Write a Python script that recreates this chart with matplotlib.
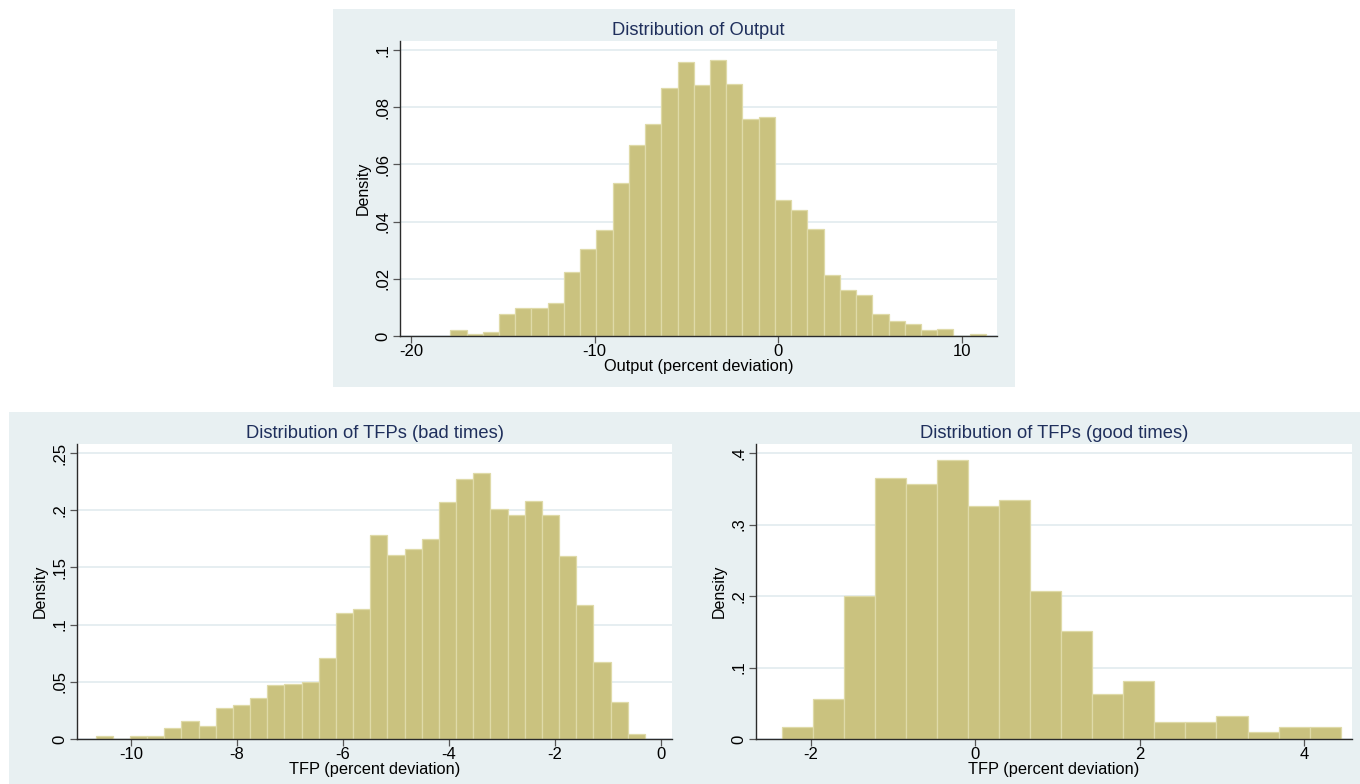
import numpy as np
import matplotlib.pyplot as plt
from matplotlib.patches import Rectangle

plt.rcParams['font.family'] = ['Liberation Sans', 'DejaVu Sans']
plt.rcParams['axes.unicode_minus'] = False

# ---- data ----
output_range = (-17.86, 11.30)
output_density = [0.0020, 0.0007, 0.0013, 0.0077, 0.0099, 0.0099, 0.0114, 0.0222,
                  0.0303, 0.0370, 0.0533, 0.0667, 0.0740, 0.0865, 0.0957, 0.0878,
                  0.0963, 0.0882, 0.0760, 0.0765, 0.0475, 0.0440, 0.0375, 0.0212,
                  0.0160, 0.0143, 0.0076, 0.0051, 0.0042, 0.0020, 0.0024, 0.0, 0.0007]

bad_range = (-10.67, -0.30)
bad_density = [0.0026, 0.0, 0.0026, 0.0026, 0.0096, 0.0158, 0.0117, 0.0268,
               0.0300, 0.0360, 0.0470, 0.0480, 0.0500, 0.0710, 0.1100, 0.1140,
               0.1780, 0.1610, 0.1660, 0.1750, 0.2070, 0.2270, 0.2325, 0.2010,
               0.1955, 0.2080, 0.1955, 0.1600, 0.1170, 0.0670, 0.0320, 0.0044]

good_range = (-2.356, 4.447)
good_density = [0.0163, 0.0563, 0.1998, 0.3655, 0.3570, 0.3900, 0.3255, 0.3340,
                0.2067, 0.1510, 0.0633, 0.0806, 0.0242, 0.0242, 0.0321, 0.0093,
                0.0163, 0.0163]

output_xticks = [-20, -10, 0, 10]
output_yticks = [0, 0.02, 0.04, 0.06, 0.08, 0.1]
output_ylabels = ['0', '.02', '.04', '.06', '.08', '.1']
bad_xticks = [-10, -8, -6, -4, -2, 0]
bad_yticks = [0, 0.05, 0.1, 0.15, 0.2, 0.25]
bad_ylabels = ['0', '.05', '.1', '.15', '.2', '.25']
good_xticks = [-2, 0, 2, 4]
good_yticks = [0, 0.1, 0.2, 0.3, 0.4]
good_ylabels = ['0', '.1', '.2', '.3', '.4']

BG = '#e8f0f2'
BAR = '#cac27f'
EDGE = '#dfdaa8'
TITLE = '#1f2f5c'

W, H = 1360, 784
fig = plt.figure(figsize=(W / 100, H / 100), dpi=100)
fig.patch.set_facecolor('white')


def px_rect(x0, y0, x1, y1):
    return [x0 / W, 1 - y1 / H, (x1 - x0) / W, (y1 - y0) / H]


# region backgrounds
for x0, y0, x1, y1 in [(333, 9, 1015, 387), (9, 412, 1360, 784)]:
    r = px_rect(x0, y0, x1, y1)
    fig.patches.append(Rectangle((r[0], r[1]), r[2], r[3], transform=fig.transFigure,
                                 facecolor=BG, edgecolor='none', zorder=-5))


def hist_panel(rect, rng, dens, xlim, ylim, xticks, yticks, ylabels, title, xlabel):
    ax = fig.add_axes(px_rect(*rect))
    ax.set_zorder(2)
    ax.set_facecolor('white')
    edges = np.linspace(rng[0], rng[1], len(dens) + 1)
    ax.bar(edges[:-1], dens, width=np.diff(edges), align='edge',
           color=BAR, edgecolor=EDGE, linewidth=0.9, zorder=2)
    ax.set_xlim(*xlim)
    ax.set_ylim(*ylim)
    ax.set_xticks(xticks)
    ax.set_yticks(yticks)
    ax.set_yticklabels(ylabels, rotation=90, va='center')
    ax.yaxis.grid(True, color='#e4edf0', linewidth=1.3, zorder=1)
    ax.set_axisbelow(True)
    for s in ['top', 'right']:
        ax.spines[s].set_visible(False)
    for s in ['left', 'bottom']:
        ax.spines[s].set_color('#2b2b2b')
        ax.spines[s].set_linewidth(1.0)
    ax.tick_params(direction='out', length=5, width=0.9, color='#555555',
                   labelsize=12, pad=2)
    ax.tick_params(axis='x', pad=1)
    ax.set_title(title, fontsize=13.2, color=TITLE, pad=4)
    ax.set_xlabel(xlabel, fontsize=11.8, labelpad=0)
    ax.set_ylabel('Density', fontsize=11.5, labelpad=3)
    return ax


hist_panel((400, 41, 997, 336), output_range, output_density,
           (-20.6, 11.905), (0, 0.1031), output_xticks, output_yticks, output_ylabels,
           'Distribution of Output', 'Output (percent deviation)')

hist_panel((77, 444, 672, 739), bad_range, bad_density,
           (-11.02, 0.21), (0, 0.2579), bad_xticks, bad_yticks, bad_ylabels,
           'Distribution of TFPs (bad times)', 'TFP (percent deviation)')

hist_panel((756, 444, 1352, 739), good_range, good_density,
           (-2.669, 4.585), (0, 0.4126), good_xticks, good_yticks, good_ylabels,
           'Distribution of TFPs (good times)', 'TFP (percent deviation)')

fig.savefig('out.png', dpi=100)
